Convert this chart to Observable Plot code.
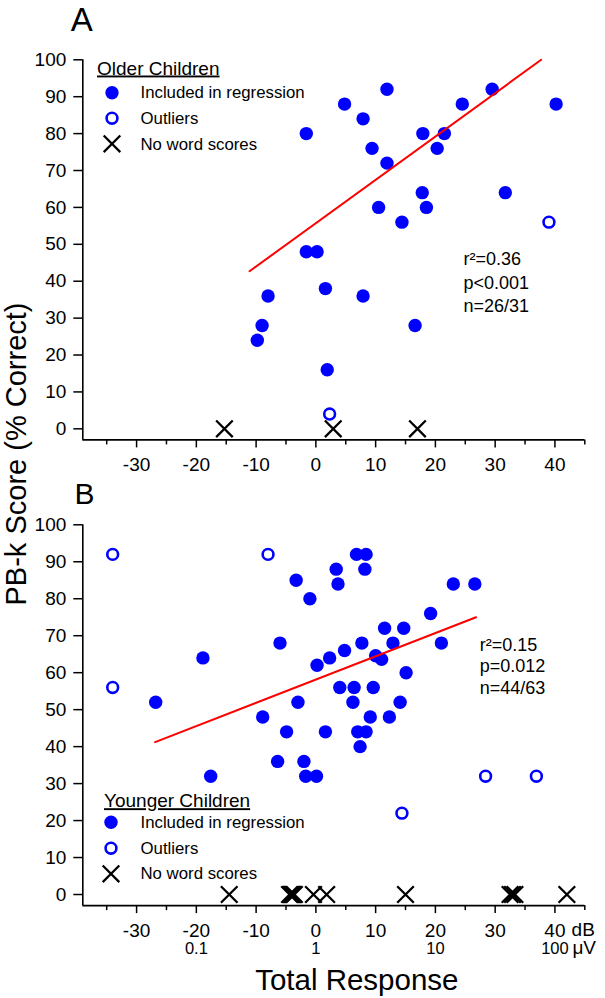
<!DOCTYPE html>
<html><head><meta charset="utf-8">
<script src="https://cdn.jsdelivr.net/npm/d3@7"></script>
<script src="https://cdn.jsdelivr.net/npm/@observablehq/plot@0.6"></script>
<style>
body{margin:0;background:#fff;}
#wrap{position:relative;width:605px;height:998px;font-family:'Liberation Sans',Arial,sans-serif;background:#fff;}
#wrap svg.plot, #wrap > svg{position:absolute;left:0;}
</style></head><body><div id="wrap"></div>
<script>
// ---- axes ----
const xDomain = [-39, 45];
const yDomain = [-3, 100];
const xTicks = [-30, -20, -10, 0, 10, 20, 30, 40];
const xMinorTicks = [-35, -25, -15, -5, 5, 15, 25, 35, 45];
const yTicks = [0, 10, 20, 30, 40, 50, 60, 70, 80, 90, 100];
const uvTicks = [-20, 0, 20, 40];
const uvLabels = ["0.1", "1", "10", "100"];
const legendLabels = ["Included in regression", "Outliers", "No word scores"];

// ---- A: Older children ----
const olderInX = [-1.6, 4.8, 11.9, 7.9, 9.4, 11.9, 17.9, 21.5, 20.3, 24.5, 29.5, 40.2, 17.8, 18.5, 10.5, 14.4, 31.7, -1.6, 0.2, 1.6, -8.0, 7.9, -9.0, -9.8, 16.6, 1.9];
const olderInY = [80, 88, 92, 84, 76, 72, 80, 80, 76, 88, 92, 88, 64, 60, 60, 56, 64, 48, 48, 38, 36, 36, 28, 24, 28, 16];
const olderOutX = [39.0, 2.3];
const olderOutY = [56, 4];
const olderNoX = [-15.3, 2.9, 17.0];
const olderRegX = [-11.1, 37.7];
const olderRegY = [42.7, 100];
const olderStats = "r²=0.36\np<0.001\nn=26/31";

// ---- B: Younger children ----
const youngerInX = [6.8, 8.4, 3.4, 8.2, -3.3, 3.7, 23.0, 26.6, -1.0, 19.2, 11.5, 14.7, -6.0, 7.7, 12.9, 21.0, 4.8, -18.9, 2.3, 10.0, 11.0, 0.2, 15.1, 4.0, 6.4, 9.6, -26.8, -3.0, 6.2, 14.1, -8.9, 9.1, 12.3, -4.9, 1.6, 7.0, 8.4, 7.4, -6.4, -2.0, -1.7, 0.1, -17.6];
const youngerInY = [92, 92, 88, 88, 85, 84, 84, 84, 80, 76, 72, 72, 68, 68, 68, 68, 66, 64, 64, 64.6, 63.6, 62, 60, 56, 56, 56, 52, 52, 52, 52, 48, 48, 48, 44, 44, 44, 44, 40, 36, 36, 32, 32, 32];
const youngerOutX = [-34, -8.0, -34, 28.4, 36.9, 14.4];
const youngerOutY = [92, 92, 56, 32, 32, 22];
const youngerNoX = [-14.5, -4.4, -4.2, -4.0, -3.8, -3.6, -0.4, 1.8, 15.0, 32.5, 32.9, 33.3, 42.0];
const youngerRegX = [-26.9, 26.8];
const youngerRegY = [41.2, 75.0];
const youngerStats = "r²=0.15\np=0.012\nn=44/63";

const BLUE = "#0000ff", RED = "#ff0000";
const FONT = "'Liberation Sans', Arial, sans-serif";
const zip = (xs, ys) => xs.map((x, i) => ({x, y: ys[i]}));

function panel(o) {
  const inPts = zip(o.inX, o.inY);
  const outPts = zip(o.outX, o.outY);
  const noPts = o.noX.map(x => ({x, y: 0}));
  const reg = zip(o.regX, o.regY);
  const L = o.legend;
  const marks = [
    Plot.ruleX([xDomain[0]], {stroke: "black", strokeWidth: 1.6}),
    Plot.ruleY([yDomain[0]], {stroke: "black", strokeWidth: 1.6}),
    Plot.axisY({ticks: yTicks, tickSize: 9, tickPadding: 7.5, tickFormat: d => String(d), fontSize: 19, label: null, strokeWidth: 1.5}),
    Plot.axisX({ticks: xTicks, tickSize: 8, tickPadding: 9.5, tickFormat: d => String(d), fontSize: 19, label: null, strokeWidth: 1.5}),
    Plot.axisX({ticks: xMinorTicks, tickSize: 5, tickFormat: () => "", label: null, strokeWidth: 1.5}),
    Plot.dot(inPts, {x: "x", y: "y", r: 6.7, fill: BLUE}),
    Plot.dot(outPts, {x: "x", y: "y", r: 5.4, stroke: BLUE, strokeWidth: 2.6, fill: "none"}),
    Plot.dot(noPts, {x: "x", y: "y", symbol: "times", r: 7.6, stroke: "black", strokeWidth: 2.3}),
    Plot.line(reg, {x: "x", y: "y", stroke: RED, strokeWidth: 2}),
    // panel letter
    Plot.text([o.letter], {frameAnchor: "top-left", dx: o.letterDx, dy: o.letterDy, textAnchor: "start", lineAnchor: "bottom", fontSize: o.letterSize, fill: "black"}),
    // stats
    Plot.text([o.stats], {frameAnchor: "top-left", dx: o.statsDx, dy: o.statsDy, textAnchor: "start", lineAnchor: "bottom", lineHeight: o.statsLH, fontSize: 18, fill: "black"}),
    // legend title
    Plot.text([L.title], {frameAnchor: "top-left", dx: L.titleDx, dy: L.titleDy, textAnchor: "start", lineAnchor: "bottom", fontSize: 19, fill: "black"}),
    Plot.dot([0], {frameAnchor: "top-left", dx: L.symDx, dy: L.symDy[0], r: 6.7, fill: BLUE}),
    Plot.dot([0], {frameAnchor: "top-left", dx: L.symDx, dy: L.symDy[1], r: 5.4, stroke: BLUE, strokeWidth: 2.6, fill: "none"}),
    Plot.dot([0], {frameAnchor: "top-left", dx: L.symDx, dy: L.symDy[2], symbol: "times", r: 7.6, stroke: "black", strokeWidth: 2.3}),
    ...legendLabels.map((t, i) => Plot.text([t], {frameAnchor: "top-left", dx: L.textDx, dy: L.textDy[i], textAnchor: "start", lineAnchor: "bottom", fontSize: 16.8, fill: "black"}))
  ];
  if (o.extra) marks.push(...o.extra);
  const svg = Plot.plot({
    width: 605,
    height: o.height,
    marginLeft: 82.3,
    marginRight: 20.7,
    marginTop: o.marginTop,
    marginBottom: o.marginBottom,
    x: {domain: xDomain},
    y: {domain: yDomain},
    style: {fontFamily: FONT, fontSize: "19px", background: "white", color: "black", overflow: "visible"},
    marks
  });
  svg.querySelectorAll("text").forEach(t => {
    if (t.textContent === L.title) t.style.textDecoration = "underline";
  });
  svg.style.top = o.top + "px";
  return svg;
}

const wrap = document.getElementById("wrap");

wrap.appendChild(panel({
  top: 0, height: 480, marginTop: 59.3, marginBottom: 40.6,
  inX: olderInX, inY: olderInY, outX: olderOutX, outY: olderOutY, noX: olderNoX,
  regX: olderRegX, regY: olderRegY,
  letter: "A", letterSize: 33, letterDx: -12, letterDy: -29.3,
  stats: olderStats, statsDx: 380.6, statsDy: 252.4, statsLH: 1.3,
  legend: {title: "Older Children", titleDx: 14.2, titleDy: 14.7,
           symDx: 29.2, symDy: [33, 58.4, 84], textDx: 57.7, textDy: [38, 64, 89.7]}
}));

wrap.appendChild(panel({
  top: 480, height: 518, marginTop: 44.3, marginBottom: 92.9,
  inX: youngerInX, inY: youngerInY, outX: youngerOutX, outY: youngerOutY, noX: youngerNoX,
  regX: youngerRegX, regY: youngerRegY,
  letter: "B", letterSize: 30, letterDx: -8.3, letterDy: -21,
  stats: youngerStats, statsDx: 397, statsDy: 169, statsLH: 1.2,
  legend: {title: "Younger Children", titleDx: 21.2, titleDy: 282.4,
           symDx: 28.2, symDy: [297.4, 323.4, 349], textDx: 57.7, textDy: [303, 329, 354]},
  extra: [
    Plot.text(uvLabels, {x: (d, i) => uvTicks[i], frameAnchor: "bottom", dy: 48, lineAnchor: "bottom", fontSize: 16.5, fill: "black"}),
    Plot.text(["dB"], {x: () => xTicks[xTicks.length - 1], frameAnchor: "bottom", dx: 16.7, dy: 30, textAnchor: "start", lineAnchor: "bottom", fontSize: 19, fill: "black"}),
    Plot.text(["\u03bcV"], {x: () => uvTicks[uvTicks.length - 1], frameAnchor: "bottom", dx: 17.5, dy: 48, textAnchor: "start", lineAnchor: "bottom", fontSize: 19, fill: "black"}),
    Plot.text(["Total Response"], {frameAnchor: "bottom", dx: 23, dy: 84, lineAnchor: "bottom", fontSize: 29.5, fill: "black"})
  ]
}));

// shared y-axis title
const ns = "http://www.w3.org/2000/svg";
const ysvg = document.createElementNS(ns, "svg");
ysvg.setAttribute("width", 40);
ysvg.setAttribute("height", 998);
ysvg.style.top = "0px";
const yt = document.createElementNS(ns, "text");
yt.setAttribute("transform", "translate(26,454) rotate(-90)");
yt.setAttribute("text-anchor", "middle");
yt.setAttribute("font-size", 29);
yt.setAttribute("font-family", FONT);
yt.textContent = "PB-k Score (% Correct)";
ysvg.appendChild(yt);
wrap.appendChild(ysvg);
</script></body></html>
